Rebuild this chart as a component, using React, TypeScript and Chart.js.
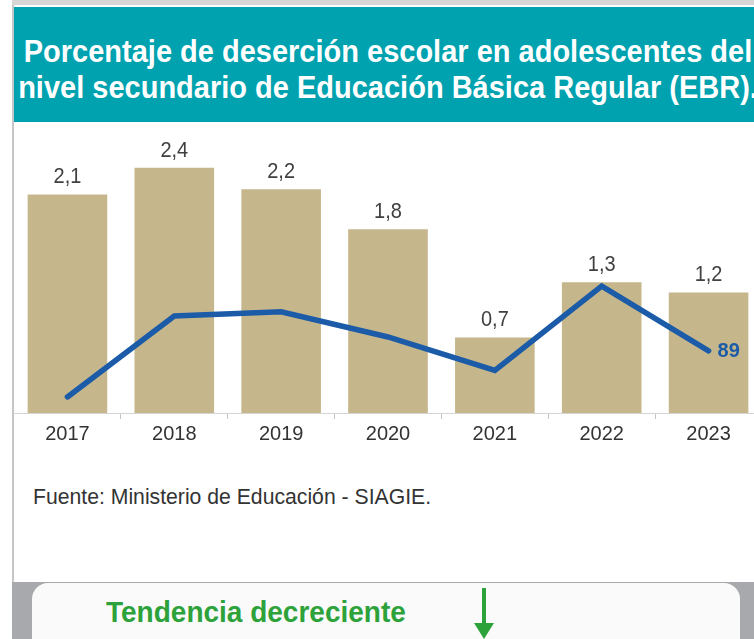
import React, { useEffect, useRef } from 'react';
import { Chart, registerables } from 'chart.js';

Chart.register(...registerables);

const FONT = '"Liberation Sans", Arial, Helvetica, sans-serif';

const categories = ['2017', '2018', '2019', '2020', '2021', '2022', '2023'];
const dropoutRate = [2.14, 2.4, 2.19, 1.8, 0.74, 1.28, 1.18];
const trendSeries = [23, 139, 145, 109, 61, 182, 89];
const trendLabelIndex = 6;

const titleLines = [
  'Porcentaje de deserción escolar en adolescentes del',
  'nivel secundario de Educación Básica Regular (EBR).',
];
const sourceText = 'Fuente: Ministerio de Educación - SIAGIE.';
const trendText = 'Tendencia decreciente';

const BAR_COLOR = '#C5B78B';
const LINE_COLOR = '#1C5BA7';

const fmt = (v: number) => v.toFixed(1).replace('.', ',');

const labelPlugin = {
  id: 'valueLabels',
  afterDatasetsDraw(chart: any) {
    const ctx = chart.ctx;
    const barMeta = chart.getDatasetMeta(0);
    ctx.save();
    ctx.font = `20px ${FONT}`;
    ctx.fillStyle = '#404040';
    ctx.textAlign = 'center';
    ctx.textBaseline = 'alphabetic';
    barMeta.data.forEach((el: any, i: number) => {
      ctx.save();
      ctx.translate(el.x, el.y - 11);
      ctx.scale(1, 1.08);
      ctx.fillText(fmt(dropoutRate[i]), 0, 0);
      ctx.restore();
    });
    const lineMeta = chart.getDatasetMeta(1);
    const pt = lineMeta.data[trendLabelIndex];
    ctx.font = `bold 20px ${FONT}`;
    ctx.fillStyle = LINE_COLOR;
    ctx.textAlign = 'left';
    ctx.textBaseline = 'middle';
    ctx.fillText(String(trendSeries[trendLabelIndex]), pt.x + 9, pt.y + 1);
    ctx.restore();
  },
};

function ChartBox() {
  const ref = useRef<HTMLCanvasElement | null>(null);
  useEffect(() => {
    if (!ref.current) return;
    const chart = new Chart(ref.current, {
      type: 'bar',
      data: {
        labels: categories,
        datasets: [
          {
            type: 'bar',
            data: dropoutRate,
            backgroundColor: BAR_COLOR,
            barPercentage: 0.745,
            categoryPercentage: 1,
            yAxisID: 'y',
            order: 2,
          },
          {
            type: 'line',
            data: trendSeries,
            borderColor: LINE_COLOR,
            borderWidth: 5.5,
            pointRadius: 0,
            borderCapStyle: 'round',
            borderJoinStyle: 'miter',
            tension: 0,
            yAxisID: 'y2',
            order: 1,
          } as any,
        ],
      },
      options: {
        animation: false,
        responsive: true,
        maintainAspectRatio: false,
        layout: { padding: { top: 5, left: 0, right: 0, bottom: 0 } },
        plugins: { legend: { display: false }, tooltip: { enabled: false } },
        scales: {
          x: {
            offset: true,
            grid: {
              display: true,
              drawOnChartArea: false,
              drawTicks: true,
              tickLength: 6,
              color: '#c4c4c4',
              offset: true,
            },
            border: { display: true, color: '#d4d4d4', dash: [2, 2] },
            ticks: {
              color: '#333333',
              font: { size: 20, family: FONT },
              padding: 3,
              maxRotation: 0,
              autoSkip: false,
            },
            afterFit: (s: any) => {
              s.height = 38;
            },
          },
          y: { display: false, min: 0, max: 2.8 },
          y2: { display: false, min: 0, max: 410, position: 'right' },
        },
      } as any,
      plugins: [labelPlugin],
    });
    return () => chart.destroy();
  }, []);
  return (
    <div style={{ position: 'absolute', left: 14, top: 122, width: 748, height: 329 }}>
      <canvas ref={ref} />
    </div>
  );
}

export default function App() {
  return (
    <div
      style={{
        position: 'fixed',
        left: 0,
        top: 0,
        width: 754,
        height: 639,
        overflow: 'hidden',
        background: '#ffffff',
        fontFamily: FONT,
      }}
    >
      {/* card frame */}
      <div style={{ position: 'absolute', left: 12, top: 0, width: 760, height: 5, background: '#d6d6d6' }} />
      <div style={{ position: 'absolute', left: 12, top: 5, width: 2, height: 640, background: '#c6c6c6' }} />
      {/* header */}
      <div
        style={{
          position: 'absolute',
          left: 14,
          top: 7,
          width: 748,
          height: 115,
          background: '#00A2AF',
        }}
      />
      {titleLines.map((t, i) => (
        <div
          key={i}
          style={{
            position: 'absolute',
            left: 14,
            width: 748,
            top: 34 + i * 36,
            height: 36,
            color: '#ffffff',
            fontWeight: 'bold',
            fontSize: 29,
            lineHeight: '36px',
            textAlign: 'center',
            whiteSpace: 'nowrap',
            transform: 'scaleY(1.1)',
            transformOrigin: '50% 28px',
          }}
        >
          {t}
        </div>
      ))}
      <ChartBox />
      {/* source */}
      <div
        style={{
          position: 'absolute',
          left: 33,
          top: 484,
          fontSize: 21.2,
          lineHeight: '26px',
          color: '#333333',
          whiteSpace: 'nowrap',
          transform: 'scaleY(1.06)',
          transformOrigin: '0 20px',
        }}
      >
        {sourceText}
      </div>
      {/* bottom band */}
      <div style={{ position: 'absolute', left: 12, top: 582, width: 760, height: 60, background: '#A7A9AC' }} />
      <div
        style={{
          position: 'absolute',
          left: 32,
          top: 583,
          width: 708,
          height: 90,
          background: '#FAFAFA',
          borderRadius: 16,
        }}
      />
      <div
        style={{
          position: 'absolute',
          left: 106,
          top: 596,
          fontSize: 28,
          lineHeight: '34px',
          fontWeight: 'bold',
          color: '#2DA23A',
          whiteSpace: 'nowrap',
          transform: 'scaleY(1.06)',
          transformOrigin: '0 26px',
        }}
      >
        {trendText}
      </div>
      <svg style={{ position: 'absolute', left: 470, top: 586 }} width={28} height={54}>
        <rect x={12} y={2} width={4} height={38} fill="#2DA23A" />
        <polygon points="4,37 24,37 14,53" fill="#2DA23A" />
      </svg>
    </div>
  );
}
